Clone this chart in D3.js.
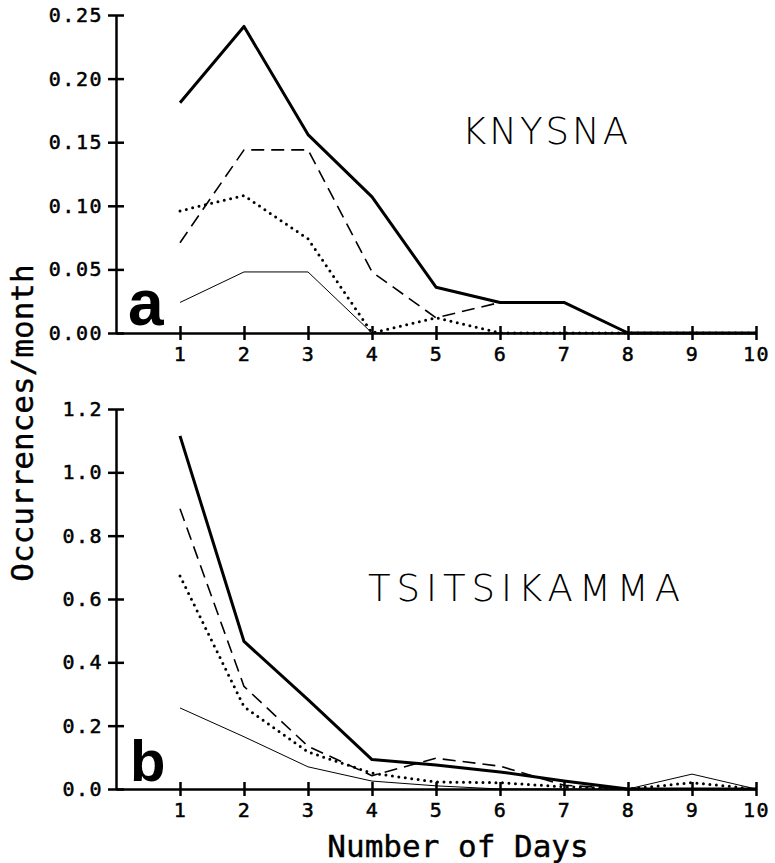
<!DOCTYPE html>
<html>
<head>
<meta charset="utf-8">
<script src="https://cdn.jsdelivr.net/npm/d3@7"></script>
<style>
  body { margin: 0; background: #fff; }
  .axis path, .axis line { stroke: #000; stroke-width: 2.5; }
  .axis text { font-family: "DejaVu Sans Mono", monospace; font-size: 20px; letter-spacing: 1.5px; fill: #000; stroke: #000; stroke-width: 0.5px; }
  .title { font-family: "DejaVu Sans Mono", monospace; font-size: 31px; fill: #000; stroke: #000; stroke-width: 0.4px; }
  .site { font-family: "DejaVu Sans", sans-serif; font-weight: 200; font-size: 37px; fill: #000; }
  .panel { font-family: "Liberation Sans", Arial, sans-serif; font-weight: bold; fill: #000; }
</style>
</head>
<body>
<div id="chart"></div>
<script>
// Number of days on the x axis
const days = [1, 2, 3, 4, 5, 6, 7, 8, 9, 10];

// Knysna (panel a)
const knysnaThick = [0.181, 0.241, 0.156, 0.107, 0.036, 0.024, 0.024, 0, 0, 0];
const knysnaDashed = [0.071, 0.144, 0.144, 0.048, 0.012, 0.024, 0.024, 0, 0, 0];
const knysnaDotted = [0.096, 0.108, 0.074, 0, 0.012, 0, 0, 0, 0, 0];
const knysnaThin = [0.024, 0.048, 0.048, 0, 0, 0, 0, 0, 0, 0];

// Tsitsikamma (panel b)
const tsitsThick = [1.115, 0.466, 0.282, 0.093, 0.076, 0.054, 0.025, 0, 0, 0];
const tsitsDashed = [0.885, 0.324, 0.135, 0.042, 0.097, 0.072, 0.012, 0, 0, 0];
const tsitsDotted = [0.673, 0.26, 0.117, 0.05, 0.022, 0.02, 0.007, 0, 0.02, 0];
const tsitsThin = [0.256, 0.165, 0.07, 0.025, 0.01, 0, 0, 0, 0.047, 0];

// Tick values
const knysnaTicks = [0, 0.05, 0.1, 0.15, 0.2, 0.25];
const tsitsTicks = [0, 0.2, 0.4, 0.6, 0.8, 1.0, 1.2];

const width = 775;
const height = 863;

const svg = d3
  .select("#chart")
  .append("svg")
  .attr("width", width)
  .attr("height", height);

const xScale = d3.scaleLinear().domain([0, 10]).range([116, 756]);

// line styles: thick solid, dashed, dotted, thin solid
const styles = [
  { width: 3, dash: null, cap: "butt" },
  { width: 1.6, dash: "13,7", cap: "butt" },
  { width: 3, dash: "0,6.5", cap: "round" },
  { width: 1, dash: null, cap: "butt" },
];

function drawPanel(cfg) {
  const yScale = d3.scaleLinear().domain([0, cfg.max]).range(cfg.range);

  // x axis
  const xAxis = svg
    .append("g")
    .attr("class", "axis")
    .attr("transform", `translate(0,${cfg.range[0]})`)
    .call(
      d3.axisBottom(xScale).tickValues(days).tickSizeInner(7).tickSizeOuter(0).tickPadding(7)
    );
  xAxis.selectAll(".tick line").attr("y1", -7);

  // y axis
  const yAxis = svg
    .append("g")
    .attr("class", "axis")
    .attr("transform", `translate(${xScale(0)},0)`)
    .call(
      d3
        .axisLeft(yScale)
        .tickValues(cfg.ticks)
        .tickFormat(d3.format(cfg.fmt))
        .tickSizeInner(8)
        .tickSizeOuter(0)
        .tickPadding(5)
    );
  yAxis.selectAll(".tick line").attr("x1", 8);

  const line = d3
    .line()
    .x((d, i) => xScale(days[i]))
    .y((d) => yScale(d));

  cfg.series.forEach((s, i) => {
    svg
      .append("path")
      .datum(s)
      .attr("fill", "none")
      .attr("stroke", "#000")
      .attr("stroke-width", styles[i].width)
      .attr("stroke-dasharray", styles[i].dash)
      .attr("stroke-linecap", styles[i].cap)
      .attr("stroke-linejoin", "round")
      .attr("d", line);
  });

  svg
    .append("text")
    .attr("class", "site")
    .attr("x", cfg.nameX)
    .attr("y", cfg.nameY)
    .style("letter-spacing", cfg.spacing + "px")
    .text(cfg.name);

  svg
    .append("text")
    .attr("class", "panel")
    .attr("x", cfg.letterX)
    .attr("y", cfg.letterY)
    .style("font-size", cfg.letterSize + "px")
    .text(cfg.letter);
}

drawPanel({
  max: 0.25,
  range: [333, 15],
  ticks: knysnaTicks,
  fmt: ".2f",
  series: [knysnaThick, knysnaDashed, knysnaDotted, knysnaThin],
  name: "KNYSNA",
  nameX: 462,
  nameY: 144,
  spacing: 3,
  letter: "a",
  letterX: 128,
  letterY: 325,
  letterSize: 64,
});

drawPanel({
  max: 1.2,
  range: [789, 409],
  ticks: tsitsTicks,
  fmt: ".1f",
  series: [tsitsThick, tsitsDashed, tsitsDotted, tsitsThin],
  name: "TSITSIKAMMA",
  nameX: 368,
  nameY: 601,
  spacing: 6,
  letter: "b",
  letterX: 130,
  letterY: 781,
  letterSize: 58,
});

// axis titles
svg
  .append("text")
  .attr("class", "title")
  .attr("transform", "translate(33,423) rotate(-90)")
  .attr("text-anchor", "middle")
  .text("Occurrences/month");

svg
  .append("text")
  .attr("class", "title")
  .attr("x", 458)
  .attr("y", 857)
  .attr("text-anchor", "middle")
  .text("Number of Days");
</script>
</body>
</html>
